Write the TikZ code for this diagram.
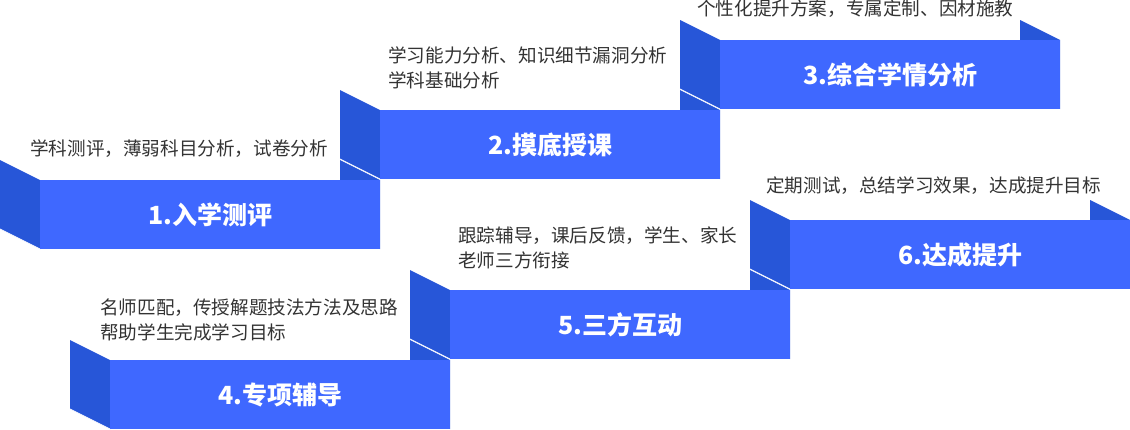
\documentclass[tikz,border=0pt]{standalone}
\usepackage{fontspec}
\newfontfamily\cjk{Noto Sans CJK SC}
\definecolor{frontblue}{HTML}{3F68FF}
\definecolor{foldblue}{HTML}{2756D8}
\definecolor{desctext}{HTML}{333333}
\tikzset{
  frontface/.style={fill=frontblue},
  foldface/.style={fill=foldblue},
  foldedge/.style={draw=white, line width=0.8pt},
  titletext/.style={font=\cjk\bfseries\fontsize{25}{25}\selectfont, text=white, inner sep=0pt},
  desctextstyle/.style={font=\cjk\fontsize{18.6}{25}\selectfont, text=desctext, anchor=west, align=left, inner sep=0pt},
}
\newcommand\stepbar[4]{%
  \fill[foldface] (#1+300,#2-20) -- (#1+340,#2) -- (#1+340,#2+69) -- (#1+300,#2+49) -- cycle;
  \fill[foldface] (#1-40,#2-20) -- (#1,#2) -- (#1,#2+69) -- (#1-40,#2+49) -- cycle;
  \draw[foldedge] (#1-40,#2+49) -- (#1,#2+69);
  \fill[frontface] (#1,#2) rectangle (#1+340,#2+69);
  \node[titletext] (#3) at (#1+170,#2+35) {#4};
}
\begin{document}
\begin{tikzpicture}[x=1pt,y=-1pt]
\useasboundingbox (0,0) rectangle (1130,429);
\stepbar{40}{180}{t1}{1.入学测评}
\stepbar{380}{110}{t2}{2.摸底授课}
\stepbar{720}{40}{t3}{3.综合学情分析}
\stepbar{110}{360}{t4}{4.专项辅导}
\stepbar{450}{290}{t5}{5.三方互动}
\stepbar{790}{220}{t6}{6.达成提升}
\node[desctextstyle] (d1) at (30,149) {学科测评，薄弱科目分析，试卷分析};
\node[desctextstyle] (d2) at (388,67.5) {学习能力分析、知识细节漏洞分析\\学科基础分析};
\node[desctextstyle] (d3) at (697,9) {个性化提升方案，专属定制、因材施教};
\node[desctextstyle] (d4) at (100,319.5) {名师匹配，传授解题技法方法及思路\\帮助学生完成学习目标};
\node[desctextstyle] (d5) at (458,247.5) {跟踪辅导，课后反馈，学生、家长\\老师三方衔接};
\node[desctextstyle] (d6) at (766,186) {定期测试，总结学习效果，达成提升目标};
\end{tikzpicture}
\end{document}
